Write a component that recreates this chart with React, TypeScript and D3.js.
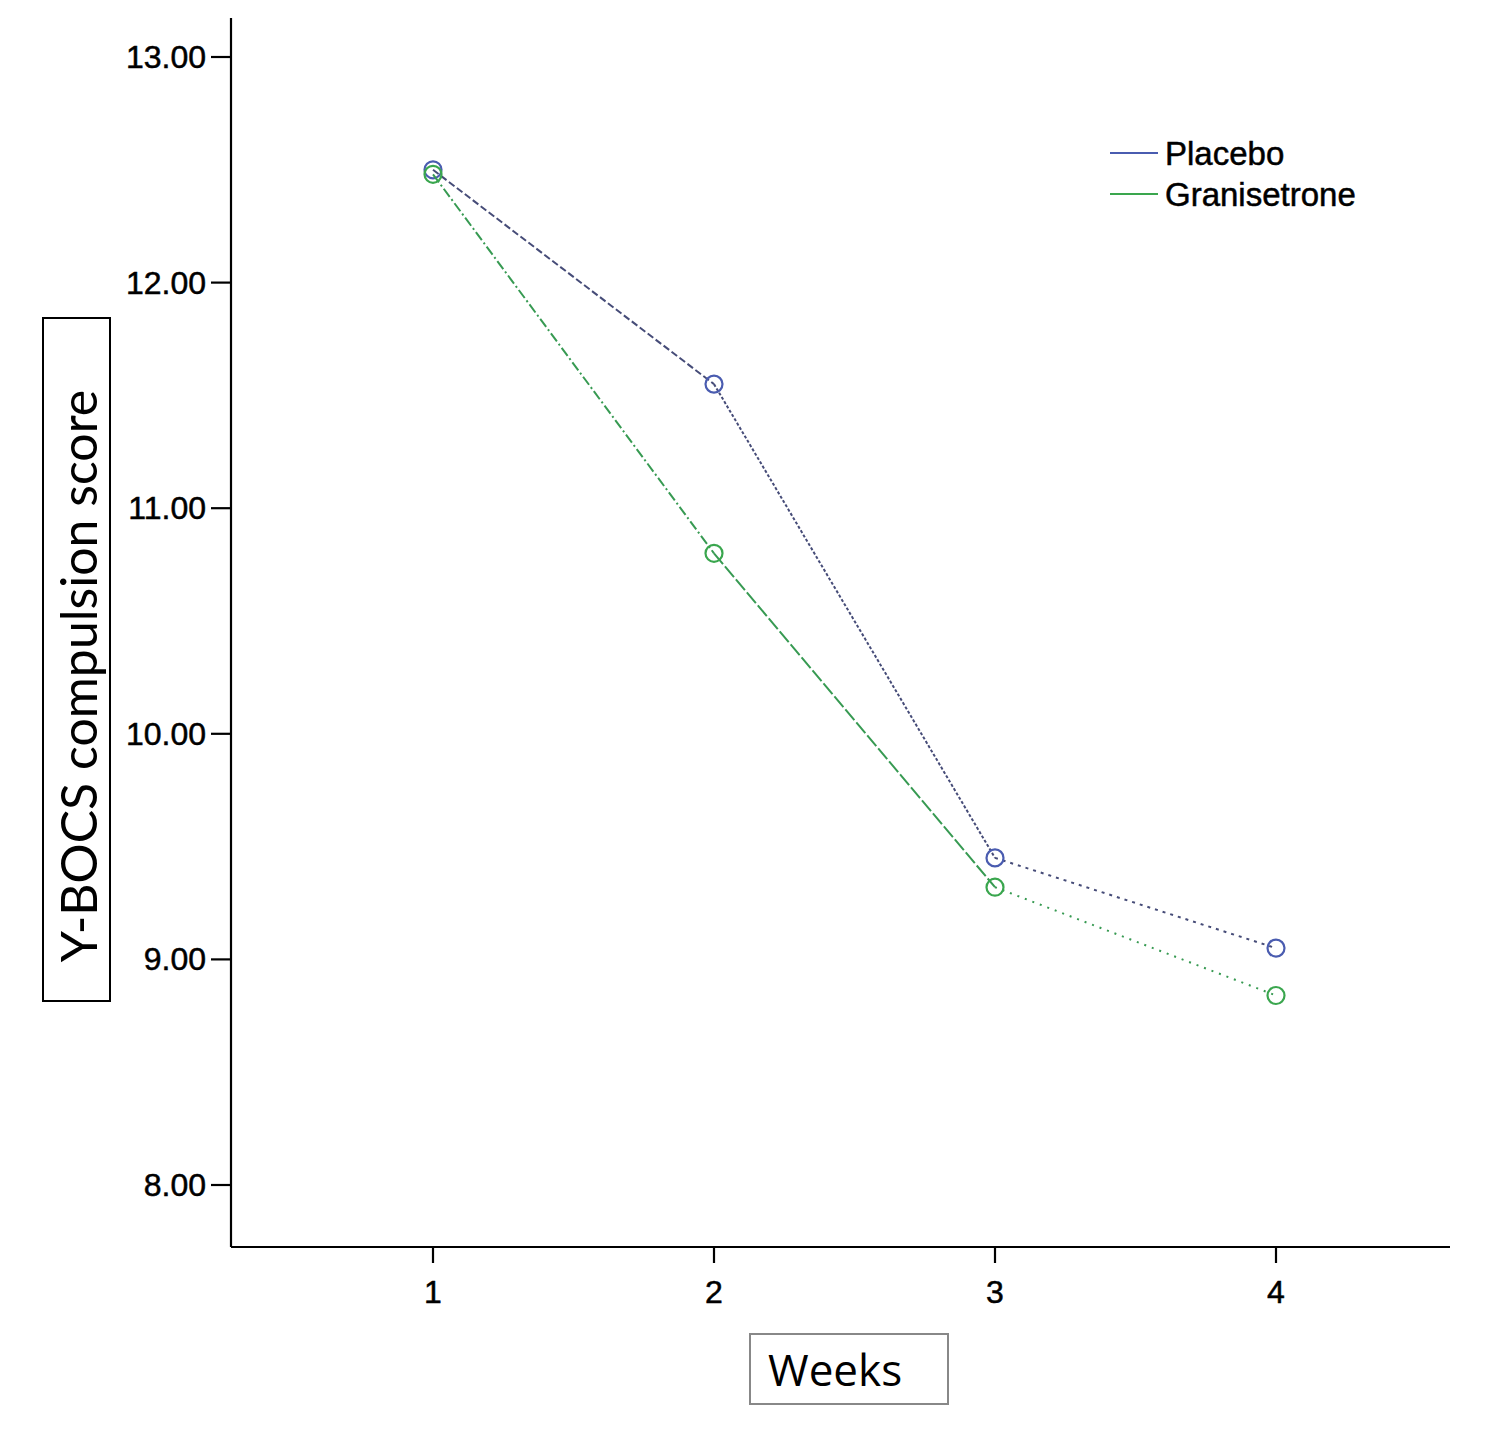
import React from "react";
import * as d3 from "d3";

const weeks = [1, 2, 3, 4];
const placebo = [12.5, 11.55, 9.45, 9.05];
const granisetrone = [12.48, 10.8, 9.32, 8.84];
const yTicks = [8, 9, 10, 11, 12, 13];

const seriesList = [
  { name: "Placebo", values: placebo, line: "#464c78", mark: "#4a5cb0", dashes: ["7,3", "3,2", "3,5"] },
  { name: "Granisetrone", values: granisetrone, line: "#379a52", mark: "#3aa64e", dashes: ["10,3,2,3", "14,3", "2,6"] },
];

export default function App() {
  const width = 1488;
  const height = 1431;
  const x = d3.scaleLinear().domain([1, 4]).range([433, 1276]);
  const y = d3.scaleLinear().domain([8, 13]).range([1185, 57]);
  const axisX0 = 231;
  const axisX1 = 1450;
  const axisY0 = 18;
  const axisY1 = 1247;
  const tickFont = "'Liberation Sans', Arial, sans-serif";

  return (
    <svg width={width} height={height} style={{ position: "absolute", left: 0, top: 0, background: "#fff" }}>
      <rect width={width} height={height} fill="#fff" />
      {/* axes */}
      <line x1={axisX0} x2={axisX0} y1={axisY0} y2={axisY1} stroke="#000" strokeWidth={2.2} />
      <line x1={axisX0} x2={axisX1} y1={axisY1} y2={axisY1} stroke="#000" strokeWidth={2.2} />
      {yTicks.map(t => (
        <g key={t} transform={`translate(${axisX0},${y(t)})`}>
          <line x1={-20} x2={0} stroke="#000" strokeWidth={2.2} />
          <text x={-25} y={11} textAnchor="end" fontSize={32} fontFamily={tickFont} stroke="#000" strokeWidth={0.5}>
            {t.toFixed(2)}
          </text>
        </g>
      ))}
      {weeks.map(w => (
        <g key={w} transform={`translate(${x(w)},${axisY1})`}>
          <line y1={0} y2={16} stroke="#000" strokeWidth={2.2} />
          <text y={56} textAnchor="middle" fontSize={32} fontFamily={tickFont} stroke="#000" strokeWidth={0.5}>
            {w}
          </text>
        </g>
      ))}

      {/* series */}
      {seriesList.map(s => (
        <g key={s.name}>
          {s.values.slice(0, -1).map((v, i) => (
            <line
              key={i}
              x1={x(weeks[i])}
              y1={y(v)}
              x2={x(weeks[i + 1])}
              y2={y(s.values[i + 1])}
              stroke={s.line}
              strokeWidth={2}
              strokeDasharray={s.dashes[i]}
            />
          ))}
          {s.values.map((v, i) => (
            <circle key={i} cx={x(weeks[i])} cy={y(v)} r={8.5} fill="none" stroke={s.mark} strokeWidth={2.2} />
          ))}
        </g>
      ))}

      {/* legend */}
      {seriesList.map((s, i) => (
        <g key={s.name} transform={`translate(1110,${153 + i * 41})`}>
          <line x1={0} x2={48} stroke={s.mark} strokeWidth={2.2} />
          <text x={55} y={12} fontSize={33} fontFamily={tickFont} stroke="#000" strokeWidth={0.5}>
            {s.name}
          </text>
        </g>
      ))}

      {/* axis title boxes */}
      <rect x={43} y={318} width={67} height={683} fill="#fff" stroke="#000" strokeWidth={2} />
      <text
        transform={`translate(97,676) rotate(-90)`}
        textAnchor="middle"
        fontSize={50}
        fontFamily="Lato, sans-serif"
      >
        Y-BOCS compulsion score
      </text>
      <rect x={750} y={1334} width={198} height={70} fill="#fff" stroke="#888" strokeWidth={2} />
      <text x={768} y={1386} fontSize={44} fontFamily="'Open Sans', sans-serif">
        Weeks
      </text>
    </svg>
  );
}
